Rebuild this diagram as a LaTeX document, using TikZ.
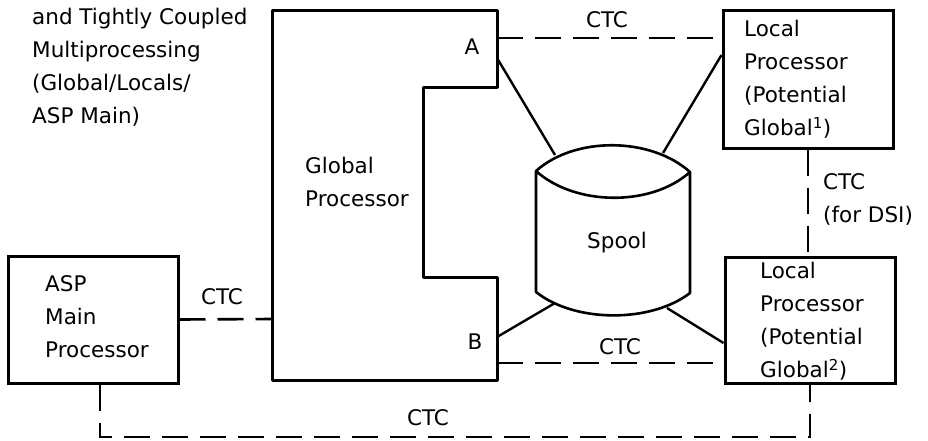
\documentclass[tikz,border=0pt]{standalone}
\usepackage{fontspec}
\setmainfont{DejaVu Sans}
\usetikzlibrary{positioning}

\begin{document}
\begin{tikzpicture}[x=1pt, y=-1pt,
        box/.style={draw, line width=3pt, minimum width=170pt, inner sep=0pt},
        txt/.style={anchor=north west, align=left, inner sep=0pt, font=\fontsize{21.5}{33}\selectfont},
        lbl/.style={inner sep=0pt, font=\fontsize{21.5}{33}\selectfont},
        ctc/.style={line width=2.6pt, dash pattern=on 26pt off 12pt},
        link/.style={line width=2.4pt}]
    \useasboundingbox (0,0) rectangle (928,440);

    \node[txt] (title) at (32,8) {and Tightly Coupled\\Multiprocessing\\(Global/Locals/\\ASP Main)};

    % global processor with notch
    \draw[line width=3pt, line join=round] (272,10) -- (497,10) -- (497,87) -- (423,87) -- (423,277)
        -- (497,277) -- (497,380) -- (272,380) -- cycle;
    \coordinate (gA) at (497,38);
    \coordinate (gAs) at (497,58);
    \coordinate (gBs) at (497,337);
    \coordinate (gB) at (497,363);
    \coordinate (gL) at (272,319);
    \node[txt] (glob) at (305,157) {Global\\Processor};
    \node[lbl] (portA) at (472,47) {A};
    \node[lbl] (portB) at (475,342) {B};

    \node[box, minimum height=138pt] (loc1) at (808,79) {};
    \node[txt] (loc1txt) at (744,20) {Local\\Processor\\(Potential\\Global\textsuperscript{1})};
    \node[box, minimum height=126pt] (loc2) at (810,320) {};
    \node[txt] (loc2txt) at (760,262) {Local\\Processor\\(Potential\\Global\textsuperscript{2})};
    \node[box, minimum height=127pt] (asp) at (93,319.5) {};
    \node[txt] (asptxt) at (45,275) {ASP\\Main\\Processor};

    % spool
    \coordinate (spTL) at (555,155);
    \coordinate (spTR) at (663,153);
    \coordinate (spBL) at (555,303);
    \coordinate (spBR) at (667,308);
    \draw[line width=2.6pt, line join=round] (536,171) .. controls (575,136) and (651,137) .. (690,172)
        .. controls (651,207) and (575,206) .. (536,171) -- (536,292)
        .. controls (575,323) and (651,323) .. (690,293) -- (690,172);
    \node[lbl] (spool) at (617,243) {Spool};

    \draw[link] (gAs) -- (spTL);
    \draw[link] ([yshift=24pt]loc1.west) -- (spTR);
    \draw[link] (gBs) -- (spBL);
    \draw[link] ([yshift=-23pt]loc2.west) -- (spBR);

    \draw[ctc] (gA) -- (gA -| loc1.west);
    \node[lbl] (ctc1) at (607,20) {CTC};
    \draw[ctc] (loc1.south) -- (loc1.south |- loc2.north);
    \node[txt] (ctc2) at (823,173) {CTC\\(for DSI)};
    \draw[ctc] (gB) -- (gB -| loc2.west);
    \node[lbl] (ctc3) at (620,347) {CTC};
    \draw[ctc] (asp.east) -- (gL);
    \node[lbl] (ctc4) at (222,297) {CTC};
    \coordinate (aspdown) at ([xshift=7pt]asp.south);
    \coordinate (loopY) at (0,437);
    \draw[ctc] (aspdown) -- (aspdown |- loopY) -| (loc2.south);
    \node[lbl] (ctc5) at (428,418) {CTC};
\end{tikzpicture}
\end{document}
